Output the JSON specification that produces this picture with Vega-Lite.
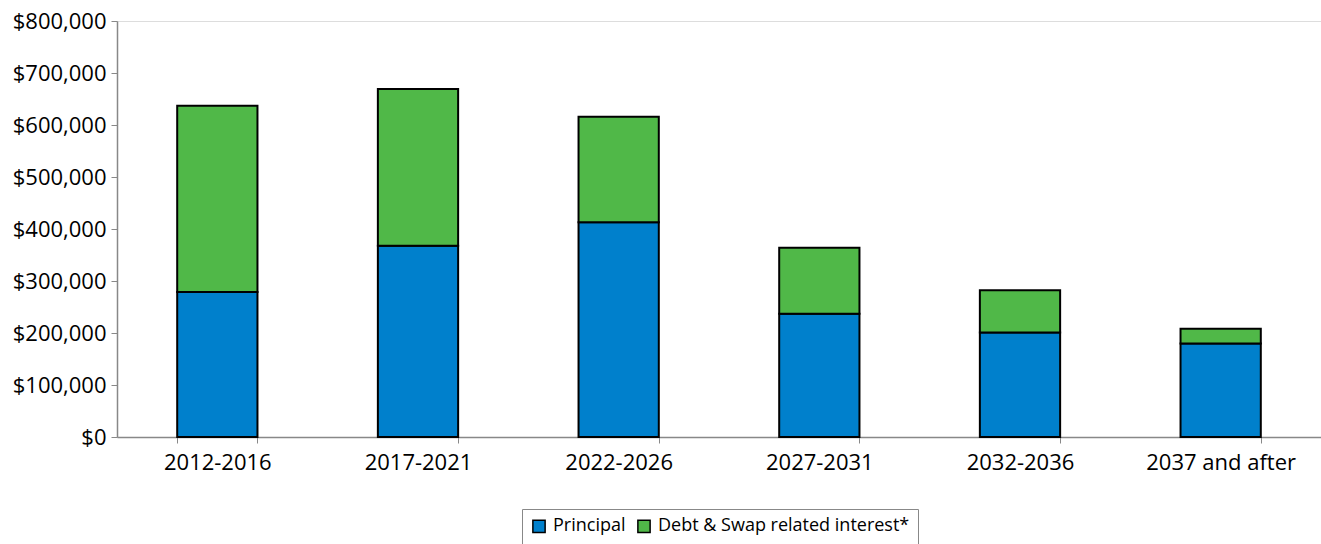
{
  "$schema": "https://vega.github.io/schema/vega-lite/v6.json",
  "autosize": "none",
  "width": 1204,
  "height": 416,
  "padding": {"left": 117, "top": 21, "right": 0, "bottom": 107},
  "background": "white",
  "data": {
    "values": [
      {"period": "2012-2016", "series": "Principal", "amount": 279000},
      {"period": "2012-2016", "series": "Debt & Swap related interest*", "amount": 358000},
      {"period": "2017-2021", "series": "Principal", "amount": 368000},
      {"period": "2017-2021", "series": "Debt & Swap related interest*", "amount": 301000},
      {"period": "2022-2026", "series": "Principal", "amount": 413000},
      {"period": "2022-2026", "series": "Debt & Swap related interest*", "amount": 203000},
      {"period": "2027-2031", "series": "Principal", "amount": 237000},
      {"period": "2027-2031", "series": "Debt & Swap related interest*", "amount": 127000},
      {"period": "2032-2036", "series": "Principal", "amount": 201000},
      {"period": "2032-2036", "series": "Debt & Swap related interest*", "amount": 81000},
      {"period": "2037 and after", "series": "Principal", "amount": 180000},
      {"period": "2037 and after", "series": "Debt & Swap related interest*", "amount": 28000}
    ]
  },
  "mark": {"type": "bar", "stroke": "black", "strokeWidth": 2},
  "encoding": {
    "x": {
      "field": "period",
      "type": "nominal",
      "sort": null,
      "scale": {"paddingInner": 0.6, "paddingOuter": 0.3},
      "axis": {
        "title": null,
        "labelAngle": 0,
        "tickBand": "extent",
        "labelFont": "Open Sans",
        "labelFontSize": 22,
        "labelColor": "black",
        "labelPadding": 9,
        "labelLimit": 300,
        "domainColor": "#888888",
        "tickColor": "#888888",
        "tickSize": 6,
        "domainWidth": 1.5
      }
    },
    "y": {
      "field": "amount",
      "type": "quantitative",
      "stack": "zero",
      "scale": {"domain": [0, 800000], "nice": false},
      "axis": {
        "title": null,
        "grid": false,
        "values": [0, 100000, 200000, 300000, 400000, 500000, 600000, 700000, 800000],
        "labelOverlap": false,
        "format": "$,.0f",
        "labelFont": "Open Sans",
        "labelFontSize": 22,
        "labelColor": "black",
        "labelPadding": 5,
        "labelLimit": 300,
        "domainColor": "#888888",
        "tickColor": "#888888",
        "tickSize": 6,
        "domainWidth": 1.5
      }
    },
    "color": {
      "field": "series",
      "type": "nominal",
      "scale": {
        "domain": ["Principal", "Debt & Swap related interest*"],
        "range": ["#0080CC", "#50B848"]
      },
      "legend": {
        "title": null,
        "orient": "none",
        "legendX": 405,
        "legendY": 488,
        "direction": "horizontal",
        "symbolType": "square",
        "symbolSize": 150,
        "symbolStrokeColor": "black",
        "symbolStrokeWidth": 1.5,
        "labelFont": "Open Sans",
        "labelFontSize": 18,
        "labelColor": "black",
        "labelLimit": 400,
        "labelOffset": 5,
        "columnPadding": 8,
        "strokeColor": "#888888",
        "padding": 8
      }
    },
    "order": {"field": "series", "sort": "descending"}
  }
}
